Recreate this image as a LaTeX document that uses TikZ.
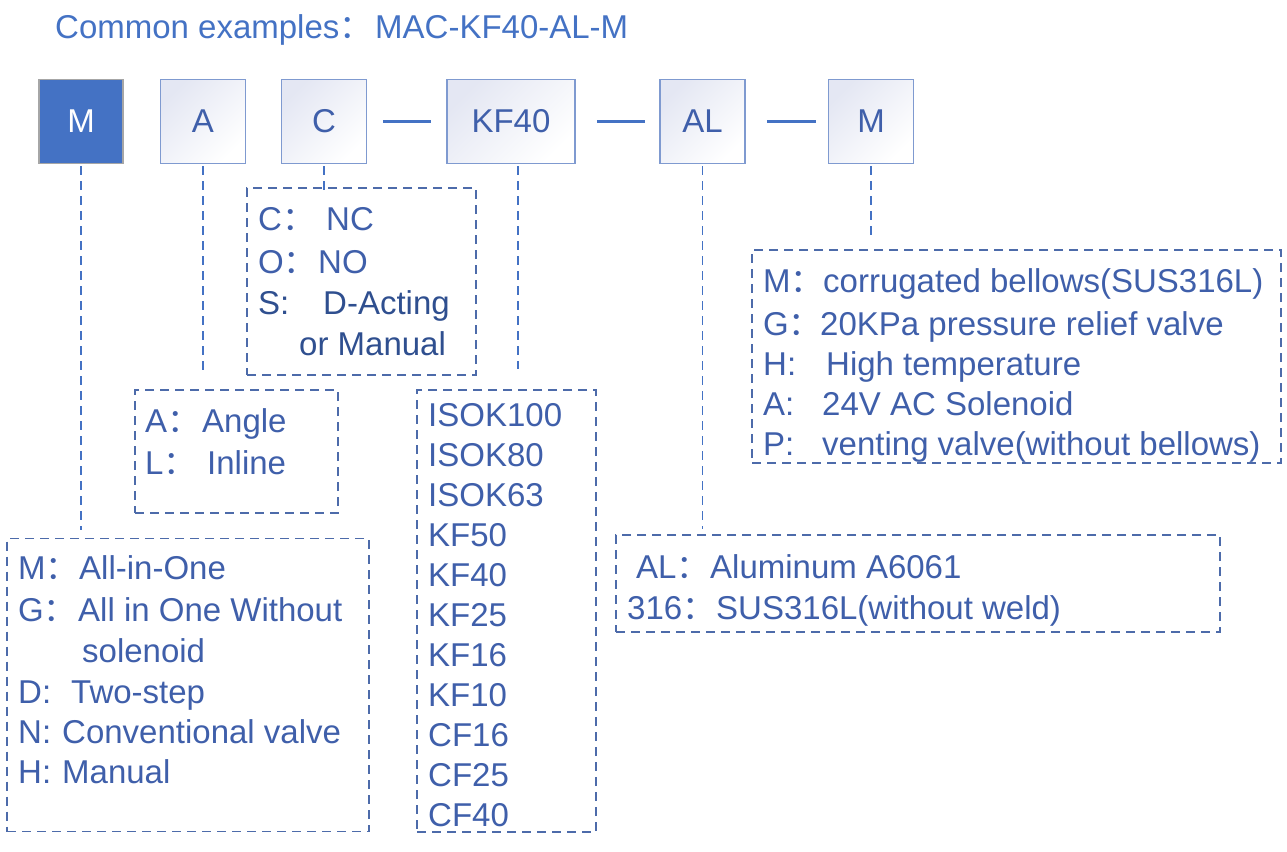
\documentclass[tikz,border=0pt]{standalone}
\usepackage{fontspec}
\setmainfont{Liberation Sans}
\newfontfamily\cjk{Noto Sans CJK SC}
\definecolor{titlec}{HTML}{4472C4}
\definecolor{txtc}{HTML}{3F5FAA}
\definecolor{darkc}{HTML}{2F4F8F}
\definecolor{fillM}{HTML}{4472C4}
\definecolor{bordM}{HTML}{A6A6A6}
\definecolor{bord}{HTML}{7F9AD0}
\definecolor{dashc}{HTML}{4D6BAA}
\definecolor{linec}{HTML}{4472C4}
\definecolor{shadec}{HTML}{E4E7F3}
\newcommand\cc{{\cjk ：}}
\newcommand\ent[6]{\node[txt] (#1k) at (#2,#4) {#5};\node[txt] (#1v) at (#3,#4) {#6};}
\begin{document}
\begin{tikzpicture}[x=1pt,y=-1pt,
  txt/.style={anchor=base west,inner sep=0pt,text=txtc,font=\fontsize{33}{38}\selectfont},
  codebox/.style={draw=bord,line width=1.5pt,minimum height=84pt,inner sep=0pt,
     top color=shadec,bottom color=white,shading angle=45,text=txtc,font=\fontsize{33}{38}\selectfont},
  dbox/.style={draw=dashc,line width=1.3pt,dash pattern=on 9pt off 6pt,inner sep=0pt},
  conn/.style={draw=linec,line width=2.2pt},
  vdash/.style={draw=linec,line width=1.6pt,dash pattern=on 9pt off 6pt}]
\useasboundingbox (0,0) rectangle (1287,851);
% title
\node[txt,text=titlec] (title1) at (55,38) {Common examples\cc};
\node[txt,text=titlec] (title2) at (375,38) {MAC-KF40-AL-M};
% code boxes
\node[draw=bordM,line width=1.5pt,fill=fillM,minimum width=84pt,minimum height=84pt,inner sep=0pt,
      text=white,font=\fontsize{33}{38}\selectfont] (bM) at (81,121.5) {M};
\node[codebox,minimum width=85pt] (bA) at (203,121.5) {A};
\node[codebox,minimum width=85pt] (bC) at (324,121.5) {C};
\node[codebox,minimum width=128pt] (bKF) at (511,121.5) {KF40};
\node[codebox,minimum width=85pt] (bAL) at (702.5,121.5) {AL};
\node[codebox,minimum width=85pt] (bM2) at (871,121.5) {M};
% solid connectors
\draw[conn,shorten <=16pt,shorten >=15pt] (bC.east) -- (bKF.west);
\draw[conn,shorten <=21pt,shorten >=14pt] (bKF.east) -- (bAL.west);
\draw[conn,shorten <=21pt,shorten >=12pt] (bAL.east) -- (bM2.west);
% dashed option boxes
\node[dbox,minimum width=229pt,minimum height=187pt] (dC) at (361.5,281.5) {};
\node[dbox,minimum width=203pt,minimum height=123pt] (dA) at (236.5,451.5) {};
\node[dbox,minimum width=362pt,minimum height=293pt] (dM) at (188,685) {};
\node[dbox,minimum width=179pt,minimum height=442pt] (dKF) at (506.5,611) {};
\node[dbox,minimum width=604pt,minimum height=97pt] (dAL) at (918,583.5) {};
\node[dbox,minimum width=529pt,minimum height=213pt] (dM2) at (1016.5,356.5) {};
% dashed connectors
\draw[vdash,shorten <=2pt,shorten >=8pt] (bM.south) -- (bM.south |- dM.north);
\draw[vdash,shorten <=2pt,shorten >=17pt] (bA.south) -- (bA.south |- dA.north);
\draw[vdash,shorten <=2pt,shorten >=-7pt] (bC.south) -- (bC.south |- dC.north);
\draw[vdash,shorten <=2pt,shorten >=20pt] ([xshift=7pt]bKF.south) -- ([xshift=7pt]bKF.south |- dKF.north);
\draw[vdash,shorten <=2pt,shorten >=5pt] (bAL.south) -- (bAL.south |- dAL.north);
\draw[vdash,shorten <=2pt,shorten >=13pt] (bM2.south) -- (bM2.south |- dM2.north);
% C box
\ent{c1}{258}{326}{230}{C\cc}{NC}
\ent{c2}{258}{318}{273}{O\cc}{NO}
\ent{c3}{258}{323}{314}{\textcolor{darkc}{S:}}{\textcolor{darkc}{D-Acting}}
\node[txt,text=darkc] (c4v) at (299,355) {or Manual};
% A box
\ent{a1}{145}{202}{432}{A\cc}{Angle}
\ent{a2}{145}{207}{474}{L\cc}{Inline}
% M box
\ent{m1}{18}{79}{579}{M\cc}{All-in-One}
\ent{m2}{18}{78}{621}{G\cc}{All in One Without}
\node[txt] (m3v) at (82,662) {solenoid};
\ent{m4}{18}{71}{703}{D:}{Two-step}
\ent{m5}{18}{62}{743}{N:}{Conventional valve}
\ent{m6}{18}{62}{783}{H:}{Manual}
% KF box
\node[txt] (k1) at (428,426) {ISOK100};
\node[txt] (k2) at (428,466) {ISOK80};
\node[txt] (k3) at (428,506) {ISOK63};
\node[txt] (k4) at (428,546) {KF50};
\node[txt] (k5) at (428,586) {KF40};
\node[txt] (k6) at (428,626) {KF25};
\node[txt] (k7) at (428,666) {KF16};
\node[txt] (k8) at (428,706) {KF10};
\node[txt] (k9) at (428,746) {CF16};
\node[txt] (k10) at (428,786) {CF25};
\node[txt] (k11) at (428,826) {CF40};
% AL box
\ent{l1}{636}{710}{578}{AL\cc}{Aluminum A6061}
\ent{l2}{627}{716}{619}{316\cc}{SUS316L(without weld)}
% M right box
\ent{r1}{763}{823}{292}{M\cc}{corrugated bellows(SUS316L)}
\ent{r2}{763}{820}{335}{G\cc}{20KPa pressure relief valve}
\ent{r3}{763}{826}{375}{H:}{High temperature}
\ent{r4}{763}{822}{415}{A:}{24V AC Solenoid}
\ent{r5}{763}{822}{455}{P:}{venting valve(without bellows)}
\end{tikzpicture}
\end{document}
